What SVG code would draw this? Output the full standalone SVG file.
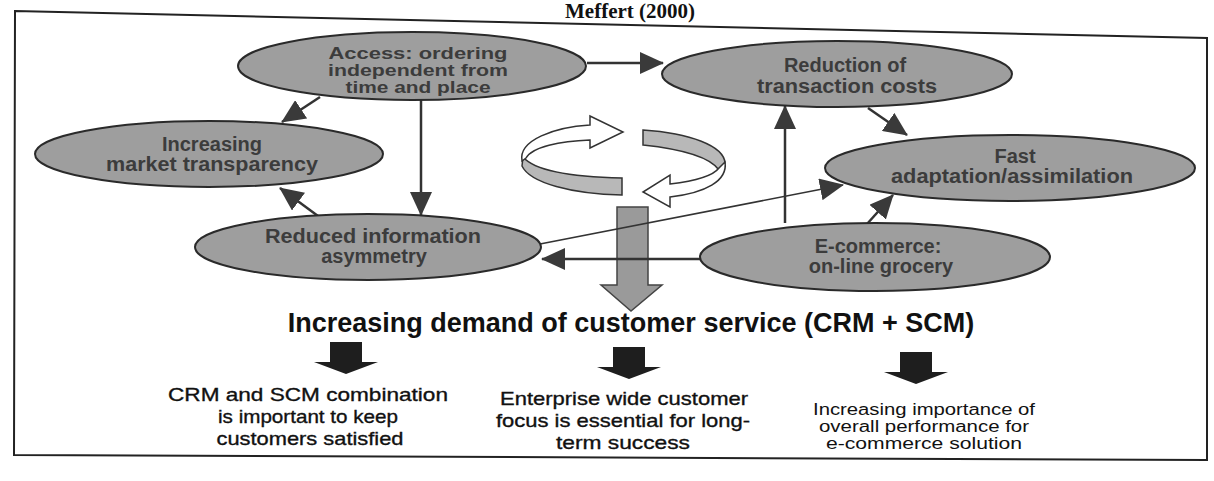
<svg xmlns="http://www.w3.org/2000/svg" width="1214" height="481" viewBox="0 0 1214 481">
  <defs>
    <marker id="ah" markerUnits="userSpaceOnUse" markerWidth="24" markerHeight="22" refX="23" refY="11" orient="auto">
      <path d="M0,0 L24,11 L0,22 Z" fill="#3a3a3a"/>
    </marker>
    <style>
      .ell { fill:#9e9e9e; stroke:#2a2a2a; stroke-width:2; }
      .et { font-family:"Liberation Sans", Arial, sans-serif; font-weight:bold; font-size:20px; fill:#3c3c3c; text-anchor:middle; }
      .et3 { font-family:"Liberation Sans", Arial, sans-serif; font-weight:bold; font-size:16px; fill:#3c3c3c; text-anchor:middle; }
      .con { stroke:#333; stroke-width:2.5; fill:none; marker-end:url(#ah); }
      .thin { stroke:#333; stroke-width:1.6; fill:none; marker-end:url(#ah); }
      .blk { fill:#1e1e1e; }
      .bt { font-family:"Liberation Sans", Arial, sans-serif; font-size:19px; fill:#111; stroke:#111; stroke-width:0.35; text-anchor:middle; }
      .bt3 { font-family:"Liberation Sans", Arial, sans-serif; font-size:16px; fill:#111; text-anchor:middle; }
      .band { fill:#b8b8b8; stroke:#333; stroke-width:1.5; }
      .warr { fill:#fff; stroke:#333; stroke-width:1.5; }
    </style>
  </defs>
  <rect width="1214" height="481" fill="#fff"/>
  <text x="630" y="18" font-family="Liberation Serif, 'Times New Roman', serif" font-weight="bold" font-size="21" text-anchor="middle" fill="#111">Meffert (2000)</text>
  <path d="M15,11 L1207,38 L1207,460 L14,455 Z" fill="none" stroke="#222" stroke-width="2"/>

  <g id="cycle">
    <path class="band" d="M523,157 C535,171 575,177 622,178 L622,195 C572,194 530,183 522,166 Z"/>
    <path class="warr" d="M522,161 C518,140 555,127 590,125 L590,116 L623,132 L590,148 L590,140 C560,141 532,147 526,158 Z"/>
    <path class="band" d="M643,130 C690,133 724,146 725,163 L719,170 C712,160 690,150 643,145 Z"/>
    <path class="warr" d="M725,162 C728,181 705,193 670,197 L670,207 L643,192 L670,175 L670,184 C695,181 713,176 719,168 Z"/>
  </g>

  <g id="bigarrow">
    <path d="M617,207 L648,207 L648,285 L662,285 L631,311 L601,285 L617,285 Z" fill="#9a9a9a" stroke="#444" stroke-width="1.5"/>
  </g>

  <g id="connectors">
    <line class="con" x1="587" y1="63" x2="663" y2="63"/>
    <line class="con" x1="320" y1="97" x2="282" y2="122"/>
    <line class="con" x1="421" y1="100" x2="421" y2="215"/>
    <line class="con" x1="318" y1="216" x2="280" y2="188"/>
    <line class="con" x1="868" y1="108" x2="907" y2="135"/>
    <line class="thin" x1="540" y1="244" x2="843" y2="185"/>
    <line class="con" x1="700" y1="259" x2="542" y2="259"/>
    <line class="con" x1="785" y1="223" x2="785" y2="106"/>
    <line class="con" x1="867" y1="224" x2="893" y2="195"/>
  </g>

  <g id="access">
    <ellipse class="ell" cx="412" cy="66" rx="174" ry="34"/>
    <text class="et3" x="418" y="59" textLength="179" lengthAdjust="spacingAndGlyphs">Access: ordering</text>
    <text class="et3" x="418" y="76" textLength="180" lengthAdjust="spacingAndGlyphs">independent from</text>
    <text class="et3" x="418" y="93" textLength="145" lengthAdjust="spacingAndGlyphs">time and place</text>
  </g>
  <g id="reduction">
    <ellipse class="ell" cx="837" cy="74" rx="175" ry="33"/>
    <text class="et" x="845" y="72">Reduction of</text>
    <text class="et" x="847" y="93" textLength="180" lengthAdjust="spacingAndGlyphs">transaction costs</text>
  </g>
  <g id="transparency">
    <ellipse class="ell" cx="209" cy="154" rx="174" ry="33"/>
    <text class="et" x="212" y="151">Increasing</text>
    <text class="et" x="212" y="171" textLength="212" lengthAdjust="spacingAndGlyphs">market transparency</text>
  </g>
  <g id="asymmetry">
    <ellipse class="ell" cx="368" cy="247" rx="173" ry="33"/>
    <text class="et" x="373" y="243" textLength="216" lengthAdjust="spacingAndGlyphs">Reduced information</text>
    <text class="et" x="374" y="263">asymmetry</text>
  </g>
  <g id="fast">
    <ellipse class="ell" cx="1010" cy="168" rx="185" ry="33"/>
    <text class="et" x="1015" y="163">Fast</text>
    <text class="et" x="1012" y="183" textLength="242" lengthAdjust="spacingAndGlyphs">adaptation/assimilation</text>
  </g>
  <g id="ecommerce">
    <ellipse class="ell" cx="875" cy="257" rx="175" ry="34"/>
    <text class="et" x="878" y="253">E-commerce:</text>
    <text class="et" x="881" y="273">on-line grocery</text>
  </g>

  <g id="heading">
    <text x="631" y="332" font-family="Liberation Sans, Arial, sans-serif" font-weight="bold" font-size="27" text-anchor="middle" fill="#111">Increasing demand of customer service (CRM + SCM)</text>
  </g>

  <g id="result1">
    <path class="blk" d="M330,342 L362,342 L362,362 L378,362 L346,374 L314,362 L330,362 Z"/>
    <text class="bt" x="308" y="401" textLength="280" lengthAdjust="spacingAndGlyphs">CRM and SCM combination</text>
    <text class="bt" x="308" y="423" textLength="180" lengthAdjust="spacingAndGlyphs">is important to keep</text>
    <text class="bt" x="310" y="445" textLength="187" lengthAdjust="spacingAndGlyphs">customers satisfied</text>
  </g>
  <g id="result2">
    <path class="blk" d="M613,347 L645,347 L645,367 L661,367 L629,379 L597,367 L613,367 Z"/>
    <text class="bt" x="624" y="405" textLength="248" lengthAdjust="spacingAndGlyphs">Enterprise wide customer</text>
    <text class="bt" x="623" y="427" textLength="254" lengthAdjust="spacingAndGlyphs">focus is essential for long-</text>
    <text class="bt" x="623" y="449" textLength="134" lengthAdjust="spacingAndGlyphs">term success</text>
  </g>
  <g id="result3">
    <path class="blk" d="M900,352 L932,352 L932,372 L948,372 L916,384 L884,372 L900,372 Z"/>
    <text class="bt3" x="924" y="415" textLength="222" lengthAdjust="spacingAndGlyphs">Increasing importance of</text>
    <text class="bt3" x="924" y="432" textLength="210" lengthAdjust="spacingAndGlyphs">overall performance for</text>
    <text class="bt3" x="924" y="449" textLength="196" lengthAdjust="spacingAndGlyphs">e-commerce solution</text>
  </g>
</svg>
